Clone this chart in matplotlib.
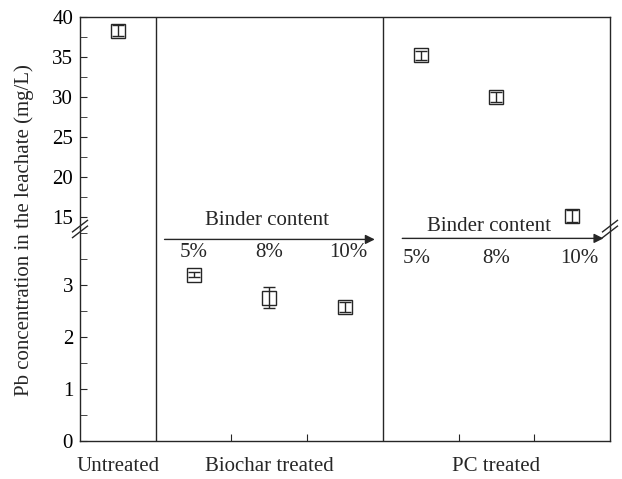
import numpy as np
import matplotlib.pyplot as plt
from matplotlib.ticker import MultipleLocator

plt.rcParams['font.family'] = ['Liberation Serif', 'DejaVu Serif']
plt.rcParams['font.size'] = 15

# data (x position in group units, value, error)
groups = ["Untreated", "Biochar treated", "PC treated"]
group_pos = [0.5, 2.5, 5.5]
binder = ["5%", "8%", "10%"]

untreated_x = [0.5]
untreated_y = [38.3]
untreated_err = [0.7]

biochar_x = [1.5, 2.5, 3.5]
biochar_y = [3.2, 2.76, 2.58]
biochar_err = [0.05, 0.2, 0.1]

pc_x = [4.5, 5.5, 6.5]
pc_y = [35.2, 30.0, 15.1]
pc_err = [0.6, 0.6, 0.7]

col = '#262626'

fig = plt.figure(figsize=(6.22, 4.79), dpi=100)
L, R = 80 / 622, 610 / 622
top = 1 - 17 / 479
mid = 1 - 228 / 479
bot = 1 - 441 / 479
ax_hi = fig.add_axes([L, mid, R - L, top - mid])
ax_lo = fig.add_axes([L, bot, R - L, mid - bot])

for ax in (ax_hi, ax_lo):
    ax.set_xlim(0, 7)
    for s in ax.spines.values():
        s.set_color(col)
        s.set_linewidth(1.0)
    ax.axvline(1, color=col, lw=1.0)
    ax.axvline(4, color=col, lw=1.0)
    ax.tick_params(axis='y', which='both', direction='in', length=5, color=col, right=False, pad=5)
    ax.tick_params(axis='x', which='both', direction='in', length=5, color=col, top=False)

ax_hi.spines['bottom'].set_visible(False)
ax_lo.spines['top'].set_visible(False)

ax_hi.set_ylim(13.6, 40)
ax_hi.yaxis.set_major_locator(MultipleLocator(5))
ax_hi.yaxis.set_minor_locator(MultipleLocator(2.5))
ax_hi.set_xticks([])

ax_lo.set_ylim(0, 4.1)
ax_lo.set_yticks([0, 1, 2, 3])
ax_lo.yaxis.set_minor_locator(MultipleLocator(0.5))
ax_lo.set_xticks([2, 3, 5, 6])
ax_lo.set_xticklabels([])
for g, p in zip(groups, group_pos):
    ax_lo.text(p, -0.3, g, ha='center', va='top', color=col)

ebkw = dict(fmt='s', ms=10.5, mfc='none', mec=col, ecolor=col, elinewidth=1.0,
            capsize=4, capthick=1.0, mew=1.0)
ax_hi.errorbar(untreated_x, untreated_y, yerr=untreated_err, **ebkw)
ax_hi.errorbar(pc_x, pc_y, yerr=pc_err, **ebkw)
ax_lo.errorbar(biochar_x, biochar_y, yerr=biochar_err, **ebkw)

# binder content arrows
ax_lo.annotate('', xy=(3.93, 3.88), xytext=(1.08, 3.88), annotation_clip=False,
               arrowprops=dict(arrowstyle='-|>', color=col, lw=1.0, mutation_scale=14))
ax_lo.text(2.47, 4.25, "Binder content", ha='center', va='center', color=col)
for x, b in zip([1.5, 2.5, 3.55], binder):
    ax_lo.text(x, 3.62, b, ha='center', va='center', color=col)

ax_lo.annotate('', xy=(6.95, 3.9), xytext=(4.22, 3.9), annotation_clip=False,
               arrowprops=dict(arrowstyle='-|>', color=col, lw=1.0, mutation_scale=14))
ax_lo.text(5.4, 4.13, "Binder content", ha='center', va='center', color=col)
for x, b in zip([4.45, 5.5, 6.6], binder):
    ax_lo.text(x, 3.52, b, ha='center', va='center', color=col)

# break marks
yb = 1 - 229 / 479
for xc in (L, R):
    for dy in (-0.006, 0.006):
        fig.add_artist(plt.Line2D([xc - 0.012, xc + 0.012], [yb + dy - 0.012, yb + dy + 0.012],
                                  color=col, lw=1.0))

fig.text(0.038, 0.52, "Pb concentration in the leachate (mg/L)", rotation=90,
         ha='center', va='center', color=col, fontsize=15)

fig.savefig('out.png', dpi=100)
